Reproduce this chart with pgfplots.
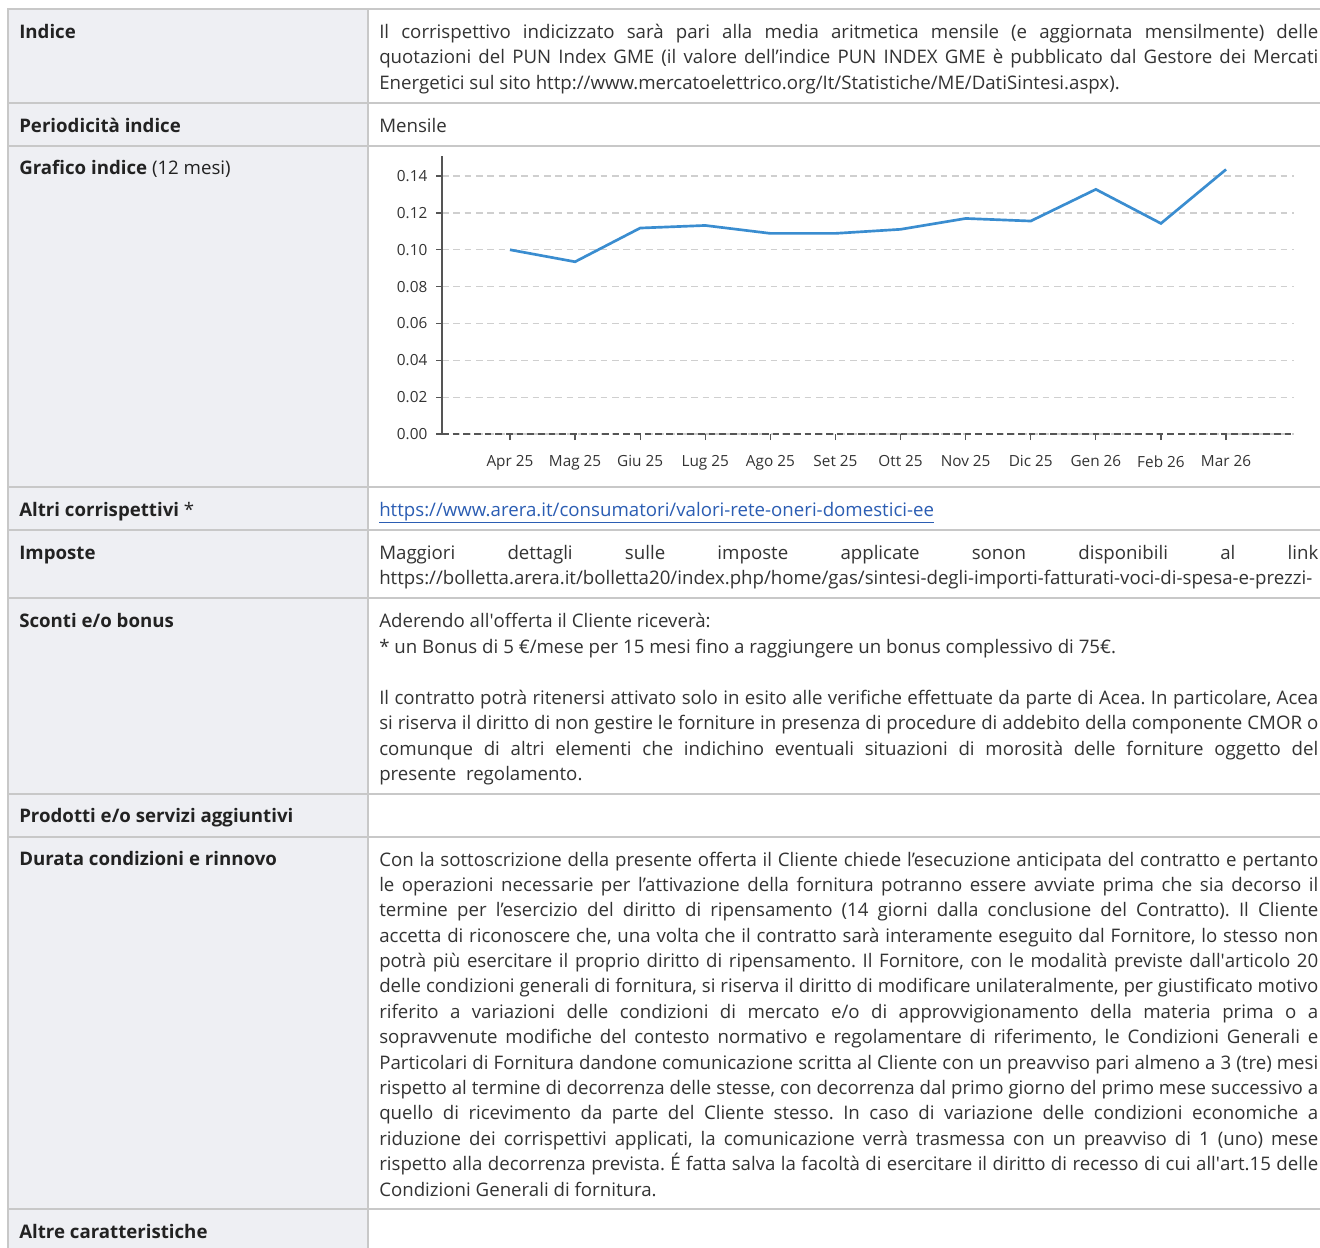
\documentclass[border=0pt]{standalone}
\usepackage{pgfplots}
\pgfplotsset{compat=1.18}
\usepackage{fontspec}
\setmainfont{Open Sans}
\definecolor{txt}{HTML}{333333}
\definecolor{lbl}{HTML}{222222}
\definecolor{bord}{HTML}{C8C8C8}
\definecolor{lbg}{HTML}{EEEFF3}
\definecolor{linkc}{HTML}{2B5DB3}
\definecolor{lineb}{HTML}{3A8DD0}
\definecolor{gridc}{HTML}{CFCFCF}
\definecolor{axc}{HTML}{555555}
\newcommand\fs{\fontsize{14pt}{19pt}\selectfont\frenchspacing}
\newcommand\jl[1]{\makebox[704.25pt][s]{#1}}
\newcommand\q{\textquotesingle}
\pgfplotstableread{
x y
0 0.1000
1 0.0935
2 0.1118
3 0.1132
4 0.1089
5 0.1089
6 0.1111
7 0.1170
8 0.1156
9 0.1328
10 0.1143
11 0.1436
}\puntable
\begin{document}
\begin{tikzpicture}[x=0.75pt,y=-0.75pt]
\useasboundingbox (0,0) rectangle (1320,1247);
\fill[white] (0,0) rectangle (1320,1247);
\fill[lbg] (8,9) rectangle (368,1250);
\draw[bord, line width=1.5pt] (8,1250) -- (8,9) -- (1325,9);
\foreach \y in {103,146,487,530,598,794,837,1209} \draw[bord, line width=1.5pt] (8,\y) -- (1325,\y);
\draw[bord, line width=1.5pt] (368,9) -- (368,1250);
\tikzset{lab/.style={anchor=base west,inner sep=0,text=lbl,font=\fs\bfseries,yshift=-0.75pt},
         bod/.style={anchor=base west,inner sep=0,text=txt,font=\fs,yshift=-0.75pt}}
% labels
\node[lab] at (19,37) {Indice};
\node[lab] at (19,131) {Periodicità indice};
\node[lab] at (19,173) {Grafico indice \mdseries(12 mesi)};
\node[lab] at (19,515) {Altri corrispettivi \mdseries*};
\node[lab] at (19,558) {Imposte};
\node[lab] at (19,626) {Sconti e/o bonus};
\node[lab] at (19,821) {Prodotti e/o servizi aggiuntivi};
\node[lab] at (19,864) {Durata condizioni e rinnovo};
\node[lab] at (19,1237) {Altre caratteristiche};
% body
\node[bod] at (379,37) {\jl{Il corrispettivo indicizzato sarà pari alla media aritmetica mensile (e aggiornata mensilmente) delle}};
\node[bod] at (379,62.5) {\jl{quotazioni del PUN Index GME (il valore dell’indice PUN INDEX GME è pubblicato dal Gestore dei Mercati}};
\node[bod] at (379,88) {Energetici sul sito http://www.mercatoelettrico.org/It/Statistiche/ME/DatiSintesi.aspx).};
\node[bod] at (379,131) {Mensile};
\node[bod,text=linkc] at (379,515) {\underline{https://www.arera.it/consumatori/valori-rete-oneri-domestici-ee}};
\node[bod] at (379,558) {\jl{Maggiori dettagli sulle imposte applicate sonon disponibili al link}};
\node[bod] at (379,583) {https://bolletta.arera.it/bolletta20/index.php/home/gas/sintesi-degli-importi-fatturati-voci-di-spesa-e-prezzi-};
\node[bod] at (379,626) {Aderendo all\q offerta il Cliente riceverà:};
\node[bod] at (379,652) {* un Bonus di 5 €/mese per 15 mesi fino a raggiungere un bonus complessivo di 75€.};
\node[bod] at (379,703) {\jl{Il contratto potrà ritenersi attivato solo in esito alle verifiche effettuate da parte di Acea. In particolare, Acea}};
\node[bod] at (379,728) {\jl{si riserva il diritto di non gestire le forniture in presenza di procedure di addebito della componente CMOR o}};
\node[bod] at (379,754) {\jl{comunque di altri elementi che indichino eventuali situazioni di morosità delle forniture oggetto del}};
\node[bod] at (379,779) {presente\ \ regolamento.};
\foreach \t [count=\i from 0] in {
{Con la sottoscrizione della presente offerta il Cliente chiede l’esecuzione anticipata del contratto e pertanto},
{le operazioni necessarie per l’attivazione della fornitura potranno essere avviate prima che sia decorso il},
{termine per l’esercizio del diritto di ripensamento (14 giorni dalla conclusione del Contratto). Il Cliente},
{accetta di riconoscere che, una volta che il contratto sarà interamente eseguito dal Fornitore, lo stesso non},
{potrà più esercitare il proprio diritto di ripensamento. Il Fornitore, con le modalità previste dall\q articolo 20},
{delle condizioni generali di fornitura, si riserva il diritto di modificare unilateralmente, per giustificato motivo},
{riferito a variazioni delle condizioni di mercato e/o di approvvigionamento della materia prima o a},
{sopravvenute modifiche del contesto normativo e regolamentare di riferimento, le Condizioni Generali e},
{Particolari di Fornitura dandone comunicazione scritta al Cliente con un preavviso pari almeno a 3 (tre) mesi},
{rispetto al termine di decorrenza delle stesse, con decorrenza dal primo giorno del primo mese successivo a},
{quello di ricevimento da parte del Cliente stesso. In caso di variazione delle condizioni economiche a},
{riduzione dei corrispettivi applicati, la comunicazione verrà trasmessa con un preavviso di 1 (uno) mese},
{rispetto alla decorrenza prevista. É fatta salva la facoltà di esercitare il diritto di recesso di cui all\q art.15 delle}}
  \node[bod] at (379,865+25.38*\i) {\jl{\t}};
\node[bod] at (379,1195) {Condizioni Generali di fornitura.};
% chart
\begin{axis}[at={(331.5pt,-325.5pt)}, anchor=south west, scale only axis,
  width=639pt, height=208.5pt,
  xmin=-1.044, xmax=12.044, ymin=0, ymax=0.1509,
  axis x line=bottom, axis y line=left,
  x axis line style={-, draw=axc, line width=1pt, dash pattern=on 5pt off 3pt},
  y axis line style={-, draw=axc, line width=1.1pt},
  xtick={0,...,11},
  xticklabels={Apr 25,Mag 25,Giu 25,Lug 25,Ago 25,Set 25,Ott 25,Nov 25,Dic 25,Gen 26,Feb 26,Mar 26},
  ytick={0,0.02,0.04,0.06,0.08,0.1,0.12,0.14},
  scaled y ticks=false,
  tick label style={font=\fontsize{11.5pt}{13pt}\selectfont, text=txt},
  xticklabel style={yshift=-8pt},
  yticklabel style={xshift=-3pt, /pgf/number format/.cd, fixed, fixed zerofill, precision=2, assume math mode=true},
  tick align=outside, major tick length=4.5pt,
  tick style={draw=axc, line width=0.9pt},
  ymajorgrids, major grid style={draw=gridc, line width=0.9pt, dash pattern=on 5pt off 3.5pt},
  clip=false]
\addplot[lineb, line width=2pt, mark=none] table[x=x,y=y] {\puntable};
\end{axis}
\end{tikzpicture}
\end{document}
